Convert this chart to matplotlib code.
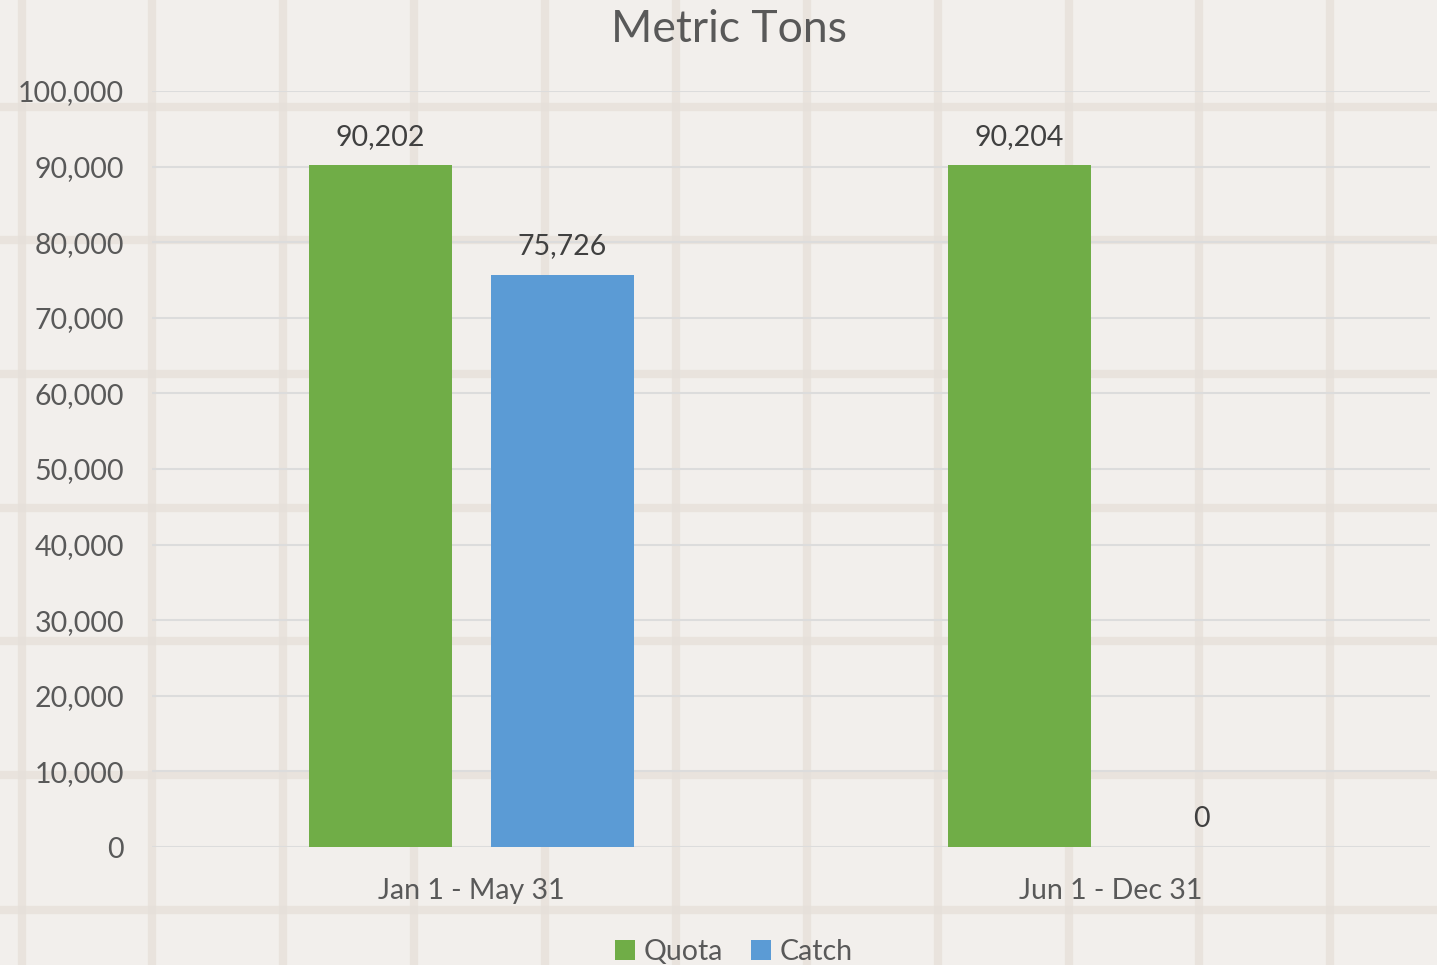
import numpy as np
import matplotlib.pyplot as plt
from matplotlib.lines import Line2D

periods = ['Jan 1 - May 31', 'Jun 1 - Dec 31']
quota = [90202, 90204]
catch = [75726, 0]
yticks = [0, 10000, 20000, 30000, 40000, 50000, 60000, 70000, 80000, 90000, 100000]

txt = '#595959'
plt.rcParams['font.family'] = ['Lato', 'DejaVu Sans']

fig = plt.figure(figsize=(14.37, 9.65), dpi=100)
fig.patch.set_facecolor('#f2efec')

# woven background pattern
W, H = 1437, 965
for x in [22, 152, 283, 414, 545, 676, 807, 938, 1069, 1199, 1330]:
    fig.add_artist(Line2D([x / W, x / W], [0, 1], transform=fig.transFigure,
                          color='#e6e0d9', lw=6, alpha=0.75, zorder=0))
for y in [107, 240, 374, 508, 641, 775, 910]:
    fig.add_artist(Line2D([0, 1], [1 - y / H, 1 - y / H], transform=fig.transFigure,
                          color='#e6e0d9', lw=6, alpha=0.75, zorder=0))

ax = fig.add_axes([152 / W, 1 - 847 / H, (1430 - 152) / W, (847 - 91) / H])
ax.set_facecolor('none')

x = np.arange(len(periods))
w = 0.225
off = 0.1425
b1 = ax.bar(x - off, quota, w, color='#70ad47', label='Quota', zorder=3)
b2 = ax.bar(x + off, catch, w, color='#5b9bd5', label='Catch', zorder=3)

for bars, vals in [(b1, quota), (b2, catch)]:
    for r, v in zip(bars, vals):
        ax.text(r.get_x() + r.get_width() / 2, v + 2000, f'{v:,}',
                ha='center', va='bottom', fontsize=20.5, color='#404040')

ax.set_xlim(-0.5, 1.5)
ax.set_ylim(0, 100000)
ax.set_yticks(yticks)
ax.set_yticklabels([f'{t:,}' for t in yticks])
ax.set_xticks(x)
ax.set_xticklabels(periods)
ax.tick_params(axis='both', length=0, labelsize=20.5, colors=txt)
ax.tick_params(axis='y', pad=20)
ax.tick_params(axis='x', pad=22)
ax.grid(axis='y', color='#dcdcdc', lw=1.5, zorder=1)
for s in ax.spines.values():
    s.set_visible(False)

fig.text(729 / W, 1 - 29 / H, 'Metric Tons', ha='center', va='center',
         fontsize=32, color=txt)

fig.legend(handles=[b1, b2], loc='center', bbox_to_anchor=(734 / W, 1 - 952 / H),
           ncol=2, frameon=False, fontsize=20.5, labelcolor=txt,
           handlelength=0.7, handleheight=0.7, handletextpad=0.3, columnspacing=1.0)

fig.savefig('out.png', dpi=100, facecolor=fig.get_facecolor())
